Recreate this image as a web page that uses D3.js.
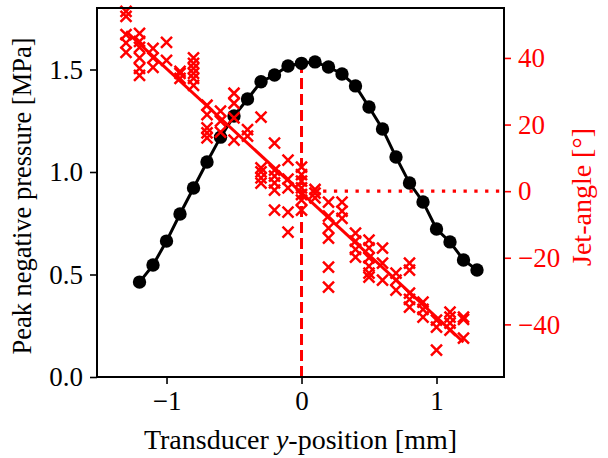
<!DOCTYPE html>
<html>
<head>
<meta charset="utf-8">
<script src="https://cdn.jsdelivr.net/npm/d3@7/dist/d3.min.js"></script>
<style>
body { margin: 0; background: #fff; }
text { font-family: "Liberation Serif", serif; }
</style>
</head>
<body>
<svg width="608" height="458"></svg>
<script>
// peak negative pressure (left axis)
var posX = [-1.2, -1.1, -1.0, -0.9, -0.8, -0.7, -0.6, -0.5, -0.4, -0.3, -0.2, -0.1, 0.0,
            0.1, 0.2, 0.3, 0.4, 0.5, 0.6, 0.7, 0.8, 0.9, 1.0, 1.1, 1.2, 1.3];
var pressure = [0.463, 0.546, 0.663, 0.795, 0.922, 1.049, 1.17, 1.273, 1.356, 1.44, 1.473, 1.517, 1.53,
                1.537, 1.512, 1.478, 1.42, 1.317, 1.21, 1.073, 0.946, 0.854, 0.722, 0.659, 0.571, 0.522];

// jet angles (right axis), one x per cross
var jetX = [
  -1.3, -1.3, -1.3, -1.3, -1.3,
  -1.2, -1.2, -1.2, -1.2, -1.2, -1.2,
  -1.1, -1.1, -1.1,
  -1.0, -1.0,
  -0.9, -0.9, -0.9,
  -0.8, -0.8, -0.8, -0.8, -0.8, -0.8,
  -0.7, -0.7, -0.7, -0.7, -0.7,
  -0.6, -0.6, -0.6,
  -0.5, -0.5, -0.5, -0.5,
  -0.4, -0.4,
  -0.3, -0.3, -0.3, -0.3, -0.3,
  -0.2, -0.2, -0.2, -0.2, -0.2, -0.2,
  -0.1, -0.1, -0.1, -0.1, -0.1,
  0.0, 0.0, 0.0, 0.0, 0.0, 0.0, 0.0,
  0.1, 0.1, 0.1,
  0.2, 0.2, 0.2, 0.2, 0.2, 0.2,
  0.3, 0.3, 0.3,
  0.4, 0.4, 0.4, 0.4,
  0.5, 0.5, 0.5, 0.5, 0.5, 0.5,
  0.6, 0.6, 0.6,
  0.7, 0.7, 0.7,
  0.8, 0.8, 0.8, 0.8, 0.8,
  0.9, 0.9, 0.9,
  1.0, 1.0, 1.0,
  1.1, 1.1, 1.1, 1.1,
  1.2, 1.2, 1.2
];
var jetAngle = [
  54, 52.5, 47, 44.5, 41.7,
  47.4, 45, 43.2, 40, 36.9, 34.8,
  42.9, 40, 37.2,
  44.7, 39.3,
  36, 35.4, 33.9,
  40, 38.4, 36.9, 35.4, 33.9, 31.8,
  25.8, 23, 19, 17.5, 16,
  24, 21, 17.7,
  29.4, 26.4, 22, 15.3,
  18.5, 16.5,
  22.2, 7, 5.8, 4, 2.4,
  14.4, 6.3, 4.5, 2.5, 0.3, -5.7,
  9.3, 3.6, 1, -6.3, -12.3,
  7.2, 5, 3, 1, -1, -2.7, -5.7,
  0.5, -0.6, -2,
  -3.3, -7.5, -11.1, -14.1, -22.8, -28.8,
  -3.3, -6, -8.2,
  -12.6, -15, -17.5, -19.8,
  -14.7, -17, -20, -22.5, -24.6, -25.8,
  -17.1, -21.6, -26.7,
  -24.6, -26.7, -29.7,
  -21.6, -23.7, -30.6, -32.5, -34.8,
  -33.3, -35.5, -37.8,
  -38.7, -40.8, -47.7,
  -36.3, -37.8, -39.6, -41.7,
  -37.8, -38.5, -44.1
];

// linear fit of the jet angle, end points
var fitX = [-1.3, 1.2];
var fitAngle = [48.0, -45.3];

var xTicks = [-1, 0, 1];
var leftTicks = [0.0, 0.5, 1.0, 1.5];
var rightTicks = [-40, -20, 0, 20, 40];

var svg = d3.select("svg");
var pL = 97, pR = 504, pT = 8, pB = 377;
var red = "#ff0000";

var x = d3.scaleLinear().domain([-1.515, 1.5]).range([pL, pR]);
var yL = d3.scaleLinear().domain([0, 1.8]).range([pB, pT]);
var yR = d3.scaleLinear().domain([-55.8, 55]).range([pB, pT]);

var minus = function(s) { return s.replace("-", "\u2212"); };

// reference lines
svg.append("line")
  .attr("x1", x(0)).attr("x2", x(0))
  .attr("y1", yL(0)).attr("y2", yL(d3.max(pressure)))
  .attr("stroke", red).attr("stroke-width", 3)
  .attr("stroke-dasharray", "11,5");

svg.append("line")
  .attr("x1", x(0)).attr("x2", pR)
  .attr("y1", yR(0)).attr("y2", yR(0))
  .attr("stroke", red).attr("stroke-width", 3.3)
  .attr("stroke-dasharray", "3.3,7.5");

// pressure curve
var line = d3.line()
  .x(function(d, i) { return x(posX[i]); })
  .y(function(d) { return yL(d); });

svg.append("path")
  .datum(pressure)
  .attr("d", line)
  .attr("fill", "none")
  .attr("stroke", "#000")
  .attr("stroke-width", 3);

svg.append("g").selectAll("circle")
  .data(pressure)
  .enter().append("circle")
    .attr("cx", function(d, i) { return x(posX[i]); })
    .attr("cy", function(d) { return yL(d); })
    .attr("r", 6.7)
    .attr("fill", "#000");

// jet angle crosses
var s = 5.5;
svg.append("g").selectAll("path")
  .data(jetAngle)
  .enter().append("path")
    .attr("d", function(d, i) {
      var cx = x(jetX[i]), cy = yR(d);
      return "M" + (cx - s) + "," + (cy - s) + "L" + (cx + s) + "," + (cy + s) +
             "M" + (cx - s) + "," + (cy + s) + "L" + (cx + s) + "," + (cy - s);
    })
    .attr("stroke", red)
    .attr("stroke-width", 2.5)
    .attr("fill", "none");

// fit line
svg.append("path")
  .datum(fitAngle)
  .attr("d", d3.line()
    .x(function(d, i) { return x(fitX[i]); })
    .y(function(d) { return yR(d); }))
  .attr("stroke", red)
  .attr("stroke-width", 3)
  .attr("fill", "none");

// axes
var xAxis = svg.append("g")
  .attr("transform", "translate(0," + pB + ")")
  .call(d3.axisBottom(x).tickValues(xTicks).tickSize(7).tickPadding(7)
    .tickFormat(function(d) { return minus(d3.format("d")(d)); }));

var lAxis = svg.append("g")
  .attr("transform", "translate(" + pL + ",0)")
  .call(d3.axisLeft(yL).tickValues(leftTicks).tickSize(7).tickPadding(7)
    .tickFormat(d3.format(".1f")));

var rAxis = svg.append("g")
  .attr("transform", "translate(" + pR + ",0)")
  .call(d3.axisRight(yR).tickValues(rightTicks).tickSize(7).tickPadding(7)
    .tickFormat(function(d) { return minus(d3.format("d")(d)); }));

[xAxis, lAxis, rAxis].forEach(function(g) {
  g.select(".domain").remove();
  g.selectAll(".tick line").attr("stroke-width", 1.6);
  g.selectAll(".tick text").attr("font-size", 27)
    .style("font-family", "'Liberation Serif', serif");
});
rAxis.selectAll(".tick line").attr("stroke", red);
rAxis.selectAll(".tick text").attr("fill", red);

// frame
svg.append("rect")
  .attr("x", pL).attr("y", pT)
  .attr("width", pR - pL).attr("height", pB - pT)
  .attr("fill", "none").attr("stroke", "#000").attr("stroke-width", 2);

// labels
var xl = svg.append("text")
  .attr("x", (pL + pR) / 2).attr("y", 449)
  .attr("text-anchor", "middle").attr("font-size", 28);
xl.append("tspan").text("Transducer ");
xl.append("tspan").attr("font-style", "italic").text("y");
xl.append("tspan").text("-position [mm]");

svg.append("text")
  .attr("transform", "translate(31,196) rotate(-90)")
  .attr("text-anchor", "middle").attr("font-size", 26.5)
  .text("Peak negative pressure [MPa]");

svg.append("text")
  .attr("transform", "translate(591,197) rotate(-90)")
  .attr("text-anchor", "middle").attr("font-size", 28)
  .attr("fill", red)
  .text("Jet-angle [\u00b0]");
</script>
</body>
</html>
